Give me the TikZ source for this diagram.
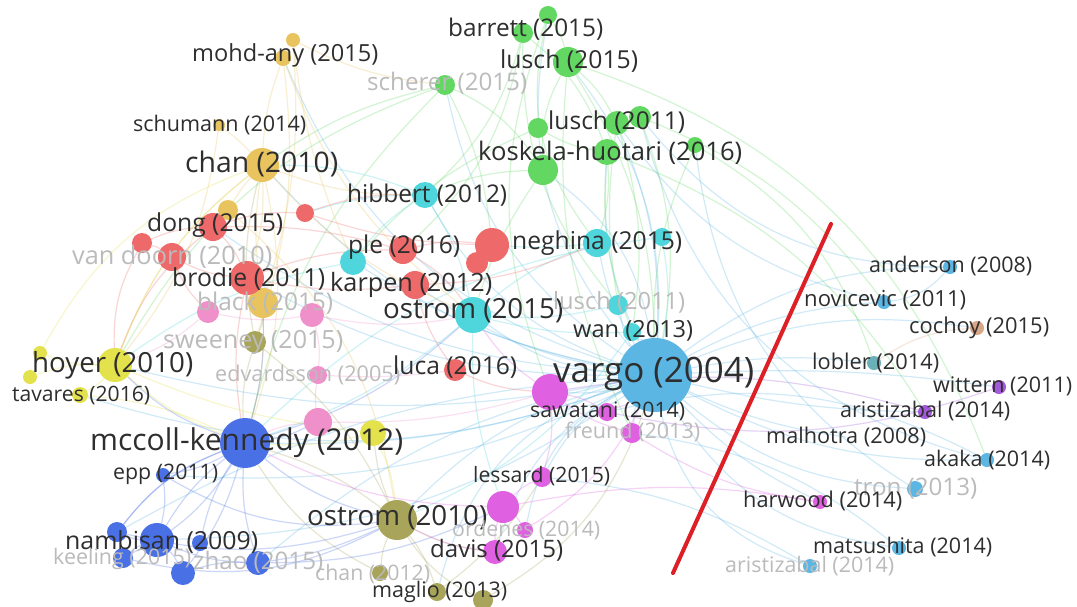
\documentclass[tikz,border=0pt]{standalone}
\usepackage{fontspec}
\setmainfont{Open Sans}
\usepackage{graphicx}
\pgfdeclarelayer{bg}
\pgfsetlayers{bg,main}
\definecolor{cgold}{HTML}{E8C35E}
\definecolor{cgreen}{HTML}{62D862}
\definecolor{ccyan}{HTML}{4FD6DC}
\definecolor{cred}{HTML}{EE6A6A}
\definecolor{cpink}{HTML}{F090CA}
\definecolor{colive}{HTML}{A8A45A}
\definecolor{cyellow}{HTML}{E4E24C}
\definecolor{cblue}{HTML}{4A70E6}
\definecolor{cmag}{HTML}{E060E2}
\definecolor{csky}{HTML}{5BB6E4}
\definecolor{cteal}{HTML}{6AB0B8}
\definecolor{cbrown}{HTML}{D9A787}
\definecolor{cpurple}{HTML}{A25AD8}
\definecolor{labc}{HTML}{2E2E2E}
\definecolor{fadec}{HTML}{BBBBBB}
\definecolor{redline}{HTML}{DD1F26}
\newcommand{\lbl}[2]{\resizebox{#1pt}{!}{#2}}
\begin{document}
\begin{tikzpicture}[x=1pt,y=-1pt,
  dot/.style={circle,inner sep=0pt,draw=none,minimum size=#1},
  lab/.style={anchor=west,inner sep=0pt,text=labc},
  flab/.style={anchor=west,inner sep=0pt,text=fadec},
  ed/.style={line width=1.2pt,draw opacity=0.28}]
\useasboundingbox (0,0) rectangle (1077,606);
% ---- nodes ----
% gold
\node[dot=14pt,fill=cgold] (mohdA) at (293,40) {};
\node[dot=16pt,fill=cgold] (mohdB) at (283,58) {};
\node[dot=12pt,fill=cgold] (schum) at (219,125) {};
\node[dot=34pt,fill=cgold] (chan) at (262,165) {};
\node[dot=20pt,fill=cgold] (goldT) at (228,210) {};
\node[dot=30pt,fill=cgold] (blackG) at (263,303) {};
% green
\node[dot=18pt,fill=cgreen] (barA) at (548,15) {};
\node[dot=20pt,fill=cgreen] (barB) at (523,33) {};
\node[dot=30pt,fill=cgreen] (lus15) at (568,62) {};
\node[dot=20pt,fill=cgreen] (scher) at (445,85) {};
\node[dot=20pt,fill=cgreen] (lgA) at (538,128) {};
\node[dot=24pt,fill=cgreen] (lgB) at (617,123) {};
\node[dot=22pt,fill=cgreen] (lgC) at (640,117) {};
\node[dot=26pt,fill=cgreen] (kosA) at (607,152) {};
\node[dot=30pt,fill=cgreen] (kosB) at (543,170) {};
\node[dot=16pt,fill=cgreen] (kosC) at (695,145) {};
% cyan
\node[dot=26pt,fill=ccyan] (hib) at (425,195) {};
\node[dot=26pt,fill=ccyan] (pleC) at (353,262) {};
\node[dot=28pt,fill=ccyan] (negh) at (597,243) {};
\node[dot=18pt,fill=ccyan] (negS) at (662,237) {};
\node[dot=36pt,fill=ccyan] (ost15) at (473,315) {};
\node[dot=20pt,fill=ccyan] (lcy) at (618,305) {};
\node[dot=18pt,fill=ccyan] (wan) at (632,332) {};
% red
\node[dot=18pt,fill=cred] (redT) at (305,213) {};
\node[dot=28pt,fill=cred] (dong) at (213,227) {};
\node[dot=20pt,fill=cred] (redS) at (142,243) {};
\node[dot=28pt,fill=cred] (vdoorn) at (172,257) {};
\node[dot=34pt,fill=cred] (brodie) at (247,278) {};
\node[dot=28pt,fill=cred] (ple) at (403,250) {};
\node[dot=34pt,fill=cred] (redBig) at (492,245) {};
\node[dot=22pt,fill=cred] (redM) at (477,263) {};
\node[dot=28pt,fill=cred] (karpen) at (415,285) {};
\node[dot=22pt,fill=cred] (luca) at (455,370) {};
% pink
\node[dot=22pt,fill=cpink] (pinkA) at (208,312) {};
\node[dot=24pt,fill=cpink] (pinkB) at (312,315) {};
\node[dot=18pt,fill=cpink] (edv) at (318,375) {};
\node[dot=28pt,fill=cpink] (pinkC) at (318,422) {};
% olive
\node[dot=22pt,fill=colive] (swee) at (255,342) {};
\node[dot=40pt,fill=colive] (ost10) at (397,520) {};
\node[dot=16pt,fill=colive] (chan12) at (380,573) {};
\node[dot=18pt,fill=colive] (magA) at (437,592) {};
\node[dot=20pt,fill=colive] (magB) at (483,600) {};
% yellow
\node[dot=34pt,fill=cyellow] (hoyer) at (115,365) {};
\node[dot=14pt,fill=cyellow] (yelA) at (40,353) {};
\node[dot=14pt,fill=cyellow] (yelB) at (30,377) {};
\node[dot=16pt,fill=cyellow] (tav) at (80,395) {};
\node[dot=26pt,fill=cyellow] (yelC) at (373,433) {};
% blue
\node[dot=50pt,fill=cblue] (mcc) at (245,443) {};
\node[dot=14pt,fill=cblue] (epp) at (163,475) {};
\node[dot=34pt,fill=cblue] (nambA) at (157,540) {};
\node[dot=20pt,fill=cblue] (nambB) at (117,532) {};
\node[dot=20pt,fill=cblue] (nambC) at (123,558) {};
\node[dot=24pt,fill=cblue] (nambD) at (183,573) {};
\node[dot=16pt,fill=cblue] (nambE) at (200,543) {};
\node[dot=24pt,fill=cblue] (zhao) at (258,563) {};
% magenta
\node[dot=36pt,fill=cmag] (magBig) at (550,392) {};
\node[dot=18pt,fill=cmag] (sawa) at (607,412) {};
\node[dot=20pt,fill=cmag] (freund) at (632,433) {};
\node[dot=20pt,fill=cmag] (less) at (542,477) {};
\node[dot=32pt,fill=cmag] (magM) at (503,507) {};
\node[dot=16pt,fill=cmag] (orden) at (525,530) {};
\node[dot=24pt,fill=cmag] (davis) at (495,552) {};
% sky
\node[dot=74pt,fill=csky] (vargo) at (655,375) {};
% right cluster
\node[dot=14pt,fill=csky] (and) at (950,267) {};
\node[dot=14pt,fill=csky] (novi) at (884,302) {};
\node[dot=14pt,fill=cbrown] (coch) at (977,328) {};
\node[dot=14pt,fill=cteal] (lobl) at (874,363) {};
\node[dot=14pt,fill=cpurple] (witt) at (999,387) {};
\node[dot=14pt,fill=cpurple] (aris) at (925,412) {};
\node[dot=14pt,fill=csky] (akaka) at (987,460) {};
\node[dot=16pt,fill=csky] (tron) at (915,489) {};
\node[dot=14pt,fill=cmag] (harw) at (820,502) {};
\node[dot=14pt,fill=csky] (mats) at (899,548) {};
\node[dot=14pt,fill=csky] (arisB) at (810,566) {};
\coordinate (malh) at (846,437);
% ---- labels ----
\node[lab] (Lmohd) at (192,55) {\lbl{186}{mohd-any (2015)}};
\node[lab] (Lschum) at (133,125) {\lbl{173}{schumann (2014)}};
\node[lab] (Lchan) at (185,164) {\lbl{153}{chan (2010)}};
\node[lab] (Lhib) at (347,195) {\lbl{160}{hibbert (2012)}};
\node[lab] (Lbar) at (448,29) {\lbl{155}{barrett (2015)}};
\node[lab] (Llus15) at (500,61) {\lbl{138}{lusch (2015)}};
\node[flab] (Lscher) at (367,83) {\lbl{160}{scherer (2015)}};
\node[lab] (Llg) at (548,122) {\lbl{137}{lusch (2011)}};
\node[lab] (Lkos) at (478,153) {\lbl{264}{koskela-huotari (2016)}};
\node[lab] (Ldong) at (147,225) {\lbl{136}{dong (2015)}};
\node[flab] (Lvd) at (72,257) {\lbl{200}{van doorn (2010)}};
\node[lab] (Lbrodie) at (172,279) {\lbl{153}{brodie (2011)}};
\node[lab] (Lkarpen) at (330,285) {\lbl{162}{karpen (2012)}};
\node[lab] (Lple) at (348,247) {\lbl{112}{ple (2016)}};
\node[flab] (Lblack) at (197,303) {\lbl{136}{black (2015)}};
\node[flab] (Lswee) at (163,342) {\lbl{180}{sweeney (2015)}};
\node[lab] (Lhoyer) at (32,365) {\lbl{161}{hoyer (2010)}};
\node[flab] (Ledv) at (215,375) {\lbl{185}{edvardsson (2005)}};
\node[lab] (Ltav) at (12,396) {\lbl{138}{tavares (2016)}};
\node[lab] (Lmcc) at (90,443) {\lbl{313}{mccoll-kennedy (2012)}};
\node[lab] (Lepp) at (113,474) {\lbl{105}{epp (2011)}};
\node[lab] (Lnamb) at (65,542) {\lbl{193}{nambisan (2009)}};
\node[flab] (Lkeel) at (53,559) {\lbl{138}{keeling (2015)}};
\node[flab] (Lzhao) at (193,562) {\lbl{130}{zhao (2015)}};
\node[lab] (Lost10) at (307,518) {\lbl{180}{ostrom (2010)}};
\node[lab] (Lost15) at (383,311) {\lbl{180}{ostrom (2015)}};
\node[lab] (Lnegh) at (512,243) {\lbl{170}{neghina (2015)}};
\node[flab] (Llcy) at (553,302) {\lbl{132}{lusch (2011)}};
\node[lab] (Lwan) at (573,331) {\lbl{120}{wan (2013)}};
\node[lab] (Lluca) at (393,367) {\lbl{124}{luca (2016)}};
\node[lab] (Lvargo) at (553,374) {\lbl{201}{vargo (2004)}};
\node[lab] (Lsawa) at (530,411) {\lbl{155}{sawatani (2014)}};
\node[flab] (Lfreund) at (565,432) {\lbl{135}{freund (2013)}};
\node[lab] (Lless) at (473,476) {\lbl{137}{lessard (2015)}};
\node[flab] (Lorden) at (452,530) {\lbl{148}{ordenes (2014)}};
\node[lab] (Ldavis) at (430,550) {\lbl{133}{davis (2015)}};
\node[flab] (Lchan12) at (315,574) {\lbl{115}{chan (2012)}};
\node[lab] (Lmaglio) at (372,592) {\lbl{135}{maglio (2013)}};
\node[lab] (Land) at (869,266) {\lbl{163}{anderson (2008)}};
\node[lab] (Lnovi) at (804,300) {\lbl{162}{novicevic (2011)}};
\node[lab] (Lcoch) at (909,328) {\lbl{140}{cochoy (2015)}};
\node[lab] (Llobl) at (812,363) {\lbl{127}{lobler (2014)}};
\node[lab] (Lwitt) at (933,386) {\lbl{139}{wittern (2011)}};
\node[lab] (Laris) at (840,411) {\lbl{170}{aristizabal (2014)}};
\node[lab] (Lmalh) at (766,437) {\lbl{160}{malhotra (2008)}};
\node[lab] (Lakaka) at (924,460) {\lbl{126}{akaka (2014)}};
\node[flab] (Ltron) at (854,489) {\lbl{123}{tron (2013)}};
\node[lab] (Lharw) at (743,501) {\lbl{159}{harwood (2014)}};
\node[lab] (Lmats) at (813,547) {\lbl{179}{matsushita (2014)}};
\node[flab] (LarisB) at (725,566) {\lbl{169}{aristizabal (2014)}};
% ---- red line ----
\coordinate (rlA) at (831,224);
\coordinate (rlB) at (673,573);
\draw[redline,line width=4pt,line cap=round] (rlA) -- (rlB);
% ---- edges ----
\begin{pgfonlayer}{bg}
\fill[white] (0,0) rectangle (1077,606);
\foreach \a/\b/\c/\d in {
 vargo/and/csky/18, vargo/novi/csky/12, vargo/coch/csky/15, vargo/lobl/csky/8,
 vargo/witt/csky/5, vargo/aris/csky/-6, vargo/akaka/csky/-14, vargo/tron/csky/-18,
 vargo/harw/csky/-10, vargo/mats/csky/-25, vargo/arisB/csky/-30, vargo/malh/csky/-8,
 vargo/ost15/csky/15, vargo/negh/csky/10, vargo/wan/csky/-10, vargo/lcy/csky/12,
 vargo/hib/csky/20, vargo/mcc/csky/10, vargo/ost10/csky/-15, vargo/hoyer/csky/12,
 vargo/chan/csky/18, vargo/kosA/csky/14, vargo/lus15/csky/-20, vargo/lgB/csky/-12,
 vargo/barA/csky/25, vargo/magBig/csky/10, vargo/freund/csky/-10, vargo/less/csky/-15,
 vargo/davis/csky/-22, vargo/brodie/csky/14, vargo/pleC/csky/10, vargo/karpen/csky/12,
 vargo/nambA/csky/16, vargo/zhao/csky/-14, vargo/dong/csky/15,
 vargo/scher/csky/22, vargo/mohdB/csky/25, vargo/tav/csky/18, vargo/nambB/csky/-12,
 vargo/epp/csky/14, vargo/orden/csky/-25, vargo/magA/csky/-28, vargo/kosB/csky/-22,
 and/novi/csky/20, coch/lobl/cbrown/-15, aris/magBig/cpurple/-12, witt/sawa/cpurple/15,
 harw/magM/cmag/-10, tron/kosC/csky/25, akaka/lgC/csky/30, novi/lgB/csky/20,
 and/lgC/csky/25, mats/freund/csky/-15, arisB/less/csky/-12, akaka/sawa/csky/-20,
 lus15/kosB/cgreen/-15, lus15/lgB/cgreen/10, barA/lus15/cgreen/10, barB/kosA/cgreen/15,
 scher/chan/cgreen/-10, scher/kosB/cgreen/15, lgA/kosA/cgreen/-10, lgC/vargo/cgreen/15,
 kosC/vargo/cgreen/-12, kosA/negh/cgreen/10, kosB/hib/cgreen/-10, lgB/wan/cgreen/12,
 barB/lcy/cgreen/-20, scher/redBig/cgreen/10, kosB/ost15/cgreen/-8, kosC/lobl/cgreen/20,
 lgC/novi/cgreen/15, barA/negh/cgreen/-25, lus15/vargo/cgreen/15, scher/hoyer/cgreen/-20,
 barB/ple/cgreen/18, lgA/pleC/cgreen/-12, kosA/aris/cgreen/18, lus15/akaka/cgreen/25,
 barA/magBig/cgreen/-20, lus15/freund/cgreen/-15, lgB/lcy/cgreen/-8, kosA/wan/cgreen/-12,
 scher/mcc/cgreen/-15, barB/hib/cgreen/15,
 hib/ost15/ccyan/10, hib/pleC/ccyan/-10, negh/ost15/ccyan/-10, negh/redBig/ccyan/5,
 ost15/mcc/ccyan/10, ost15/wan/ccyan/-8, pleC/hoyer/ccyan/-12, negS/vargo/ccyan/10,
 lcy/ost15/ccyan/8, negS/mcc/ccyan/-18, hib/chan/ccyan/-10, wan/ost10/ccyan/15,
 ost15/magM/ccyan/-10, hib/redT/ccyan/-8,
 dong/brodie/cred/10, dong/redS/cred/-10, redS/vdoorn/cred/10, vdoorn/brodie/cred/-10,
 brodie/ple/cred/10, brodie/karpen/cred/-8, ple/redBig/cred/10, redBig/redM/cred/10,
 karpen/luca/cred/-10, dong/redT/cred/10, redT/redBig/cred/-8, brodie/mcc/cred/-10,
 dong/hoyer/cred/-15, luca/magBig/cred/-10, redT/hib/cred/10, vdoorn/pinkA/cred/-10,
 karpen/negh/cred/-10, redS/hoyer/cred/-15, ple/ost15/cred/12, dong/ple/cred/8,
 mohdB/chan/cgold/-8, mohdA/blackG/cgold/10, schum/chan/cgold/5, chan/goldT/cgold/-5,
 chan/brodie/cgold/10, chan/blackG/cgold/-8, chan/mcc/cgold/15, chan/hoyer/cgold/-15,
 chan/hib/cgold/-10, goldT/dong/cgold/-8, chan/ost15/cgold/-12, blackG/mcc/cgold/8,
 mohdA/scher/cgold/-10, mohdB/ost15/cgold/-15, goldT/ost10/cgold/20, schum/hoyer/cgold/15,
 mohdA/pleC/cgold/-8, mohdB/swee/cgold/12,
 pinkA/pinkB/cpink/-10, pinkB/edv/cpink/10, edv/pinkC/cpink/-8, pinkC/mcc/cpink/-10,
 pinkC/magBig/cpink/-8, pinkA/hoyer/cpink/10, pinkB/ost15/cpink/-10, edv/luca/cpink/-5,
 swee/mcc/colive/-10, swee/ost10/colive/12, ost10/chan12/colive/-10, ost10/magA/colive/10,
 ost10/magB/colive/-15, ost10/mcc/colive/-10, ost10/yelC/colive/8, ost10/davis/colive/-10,
 swee/chan/colive/12, magB/vargo/colive/-20, chan12/mcc/colive/15, swee/blackG/colive/-10,
 magA/less/colive/-10,
 hoyer/yelA/cyellow/10, hoyer/yelB/cyellow/-10, hoyer/tav/cyellow/10, hoyer/mcc/cyellow/-10,
 hoyer/yelC/cyellow/-8, tav/mcc/cyellow/10, yelC/ost10/cyellow/10, hoyer/chan/cyellow/15,
 yelA/chan/cyellow/20, yelC/mcc/cyellow/8,
 mcc/epp/cblue/10, mcc/nambA/cblue/-10, mcc/nambB/cblue/-15, mcc/nambC/cblue/15,
 mcc/nambD/cblue/10, mcc/zhao/cblue/-10, mcc/ost10/cblue/-12, nambA/nambB/cblue/10,
 nambA/nambC/cblue/-10, nambA/nambD/cblue/10, nambA/zhao/cblue/-10, nambD/zhao/cblue/10,
 zhao/ost10/cblue/-8, nambB/ost10/cblue/-15, epp/nambA/cblue/10, mcc/ost15/cblue/-12,
 nambC/ost10/cblue/-20, nambB/mcc/cblue/15, epp/ost10/cblue/-18, mcc/hoyer/cblue/12,
 nambE/mcc/cblue/10, zhao/magM/cblue/-12, mcc/pinkC/cblue/-8, mcc/blackG/cblue/-8,
 magBig/sawa/cmag/10, magBig/freund/cmag/-10, magBig/less/cmag/10, less/magM/cmag/-10,
 magM/orden/cmag/10, magM/davis/cmag/-10, davis/ost10/cmag/10, sawa/vargo/cmag/-10,
 freund/harw/cmag/-12, magM/mcc/cmag/12, orden/vargo/cmag/-15, magBig/ost15/cmag/10}
 { \draw[ed,draw=\c] (\a) to[bend left=\d] (\b); }
\end{pgfonlayer}
\end{tikzpicture}
\end{document}
